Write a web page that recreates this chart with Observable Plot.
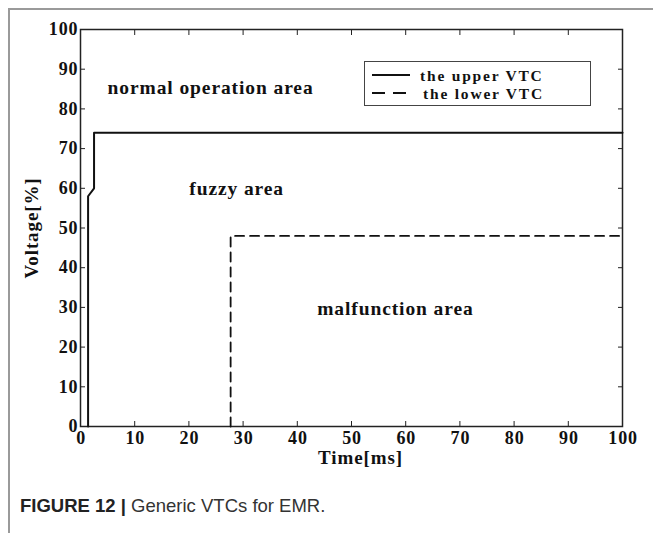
<!DOCTYPE html>
<html>
<head>
<meta charset="utf-8">
<script src="https://cdn.jsdelivr.net/npm/d3@7"></script>
<script src="https://cdn.jsdelivr.net/npm/@observablehq/plot@0.6"></script>
<style>
  html, body { margin: 0; padding: 0; background: #fff; overflow: hidden; }
  body { width: 653px; height: 533px; position: relative; }
  #frame { position: absolute; left: 8px; top: 8px; width: 700px; height: 600px;
           border-top: 2px solid #9a9a9a; border-left: 2px solid #9a9a9a; }
  #chart { position: absolute; left: 0; top: 0; }
  #legend { position: absolute; left: 364px; top: 61px; width: 225px; height: 43px;
            border: 1.5px solid #444; background: #fff; }
  #legend svg { display: block; }
  #caption { position: absolute; left: 20px; top: 495px; font-family: "Liberation Sans", Arial, sans-serif;
             font-size: 18.5px; color: #333; }
  #caption b { font-weight: bold; color: #222; }
</style>
</head>
<body>
<div id="frame"></div>
<div id="chart"></div>
<div id="legend"></div>
<div id="caption"><b>FIGURE 12 |</b> Generic VTCs for EMR.</div>
<script>
// Voltage tolerance curves: time [ms] vs. voltage [%]
const upperTime    = [1.4, 1.4, 2.5, 2.5, 100];
const upperVoltage = [0,   58,  60,  74,  74];
const lowerTime    = [27.7, 27.7, 100];
const lowerVoltage = [0,    48,   48];

const xTicks = [0, 10, 20, 30, 40, 50, 60, 70, 80, 90, 100];
const yTicks = [0, 10, 20, 30, 40, 50, 60, 70, 80, 90, 100];

const areaNames = ["normal operation area", "fuzzy area", "malfunction area"];
const areaTime  = [24, 28.8, 58.1];
const areaVolt  = [85.4, 60, 29.7];

const series = ["the upper VTC", "the lower VTC"];

const upper = upperTime.map((t, i) => ({t, v: upperVoltage[i]}));
const lower = lowerTime.map((t, i) => ({t, v: lowerVoltage[i]}));
const areas = areaNames.map((name, i) => ({name, t: areaTime[i], v: areaVolt[i]}));

const serif = "'Liberation Serif', 'Times New Roman', serif";

const plot = Plot.plot({
  width: 653,
  height: 470,
  marginLeft: 80,
  marginRight: 31,
  marginTop: 29,
  marginBottom: 44,
  style: {fontFamily: serif, fontSize: "18px", fontWeight: "bold", color: "#111", background: "transparent"},
  x: {domain: [0, 100]},
  y: {domain: [0, 100]},
  marks: [
    Plot.frame({stroke: "#222", strokeWidth: 1.5}),
    // tick labels
    Plot.axisX(xTicks, {anchor: "bottom", tickSize: 0, tickPadding: 5, label: null, fontSize: 18, dx: 0.6}),
    Plot.axisY(yTicks, {anchor: "left", tickSize: 0, tickPadding: 2, label: null, fontSize: 18}),
    // inward ticks on all four sides
    Plot.axisX(xTicks, {anchor: "bottom", tickSize: -5, tickFormat: () => "", label: null, stroke: "#222"}),
    Plot.axisX(xTicks, {anchor: "top", tickSize: -5, tickFormat: () => "", label: null, stroke: "#222"}),
    Plot.axisY(yTicks, {anchor: "left", tickSize: -5, tickFormat: () => "", label: null, stroke: "#222"}),
    Plot.axisY(yTicks, {anchor: "right", tickSize: -5, tickFormat: () => "", label: null, stroke: "#222"}),
    // axis titles
    Plot.text(["Time[ms]"], {frameAnchor: "bottom", dx: 9, dy: 37, fontSize: 19, fontWeight: "bold"}),
    Plot.text(["Voltage[%]"], {frameAnchor: "left", textAnchor: "middle", dx: -49, rotate: -90, fontSize: 19, fontWeight: "bold"}),
    // curves
    Plot.line(upper, {x: "t", y: "v", stroke: "#111", strokeWidth: 2, curve: "linear"}),
    Plot.line(lower, {x: "t", y: "v", stroke: "#111", strokeWidth: 1.8, strokeDasharray: "9,6", curve: "linear"}),
    // region names
    Plot.text(areas, {x: "t", y: "v", text: "name", fontSize: 19.5, fontWeight: "bold", fill: "#111"})
  ]
});
document.getElementById("chart").append(plot);

// wider tracking on the serif labels
d3.select(plot).selectAll("text").attr("letter-spacing", "0.9px");

// legend: a line sample and a label per series
const legend = d3.select("#legend").append("svg").attr("width", 225).attr("height", 43);
const rows = legend.selectAll("g").data(series).join("g")
  .attr("transform", (d, i) => `translate(0,${13 + i * 18})`);
rows.append("line")
  .attr("x1", 7).attr("x2", 45).attr("y1", 0).attr("y2", 0)
  .attr("stroke", "#111").attr("stroke-width", 1.8)
  .attr("stroke-dasharray", (d, i) => i === 0 ? null : "13,8");
rows.append("text")
  .attr("x", (d, i) => i === 0 ? 55 : 58).attr("y", 5.5)
  .attr("font-family", serif).attr("font-size", 15.5).attr("font-weight", "bold").attr("fill", "#111")
  .attr("letter-spacing", "1.8px")
  .text(d => d);
</script>
</body>
</html>
